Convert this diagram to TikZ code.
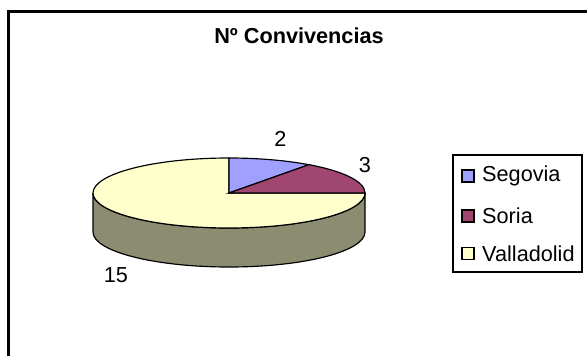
\documentclass[tikz,border=0pt]{standalone}
\usepackage{fontspec}
\setmainfont{Liberation Sans}
\usepackage{tikz}
\usetikzlibrary{arrows}

\definecolor{segcol}{RGB}{160,160,255}
\definecolor{soricol}{RGB}{160,70,112}
\definecolor{valcol}{RGB}{255,255,204}
\definecolor{sidecol}{RGB}{140,140,112}

\tikzset{
  pieline/.style={draw=black, line width=1pt},
  legsq/.style={draw=black, line width=1pt},
  lbl/.style={inner sep=0pt, font=\fontsize{18.5}{22}\selectfont},
}

\begin{document}
\begin{tikzpicture}[x=0.03cm, y=0.03cm]
\useasboundingbox (0,0) rectangle (587,356);
\fill[white] (0,0) rectangle (587,356);
\draw[black, line width=1.8pt] (8.5,0) -- (8.5,344.5) -- (587,344.5);

% titulo
\draw (299,320.5) node[lbl, font=\bfseries\fontsize{18.5}{22}\selectfont] (titulo) {Nº Convivencias};

% lateral del queso
\draw [pieline, fill=sidecol] (93,163) arc[start angle=180, end angle=360, x radius=136, y radius=35]
  -- (365,124) arc[start angle=0, end angle=-180, x radius=136, y radius=35] -- cycle;

% sectores
\draw [pieline, fill=valcol] (229,163) -- ++(0,35) arc[start angle=90, end angle=360, x radius=136, y radius=35] -- cycle;
\draw [pieline, fill=segcol] (229,163) -- ++(0,35) arc[start angle=90, end angle=54, x radius=136, y radius=35] -- cycle;
\draw [pieline, fill=soricol] (229,163) -- ++(136,0) arc[start angle=0, end angle=54, x radius=136, y radius=35] -- cycle;

% etiquetas
\draw (280.5,217) node[lbl] (etsegovia) {2};
\draw (365,191) node[lbl] (etsoria) {3};
\draw (116,81) node[lbl] (etvalladolid) {15};

% leyenda
\draw [black, line width=1.2pt] (453,84) rectangle (582,201);
\draw [legsq, fill=segcol] (462,174) rectangle (474,186);
\draw [legsq, fill=soricol] (462,134) rectangle (474,146);
\draw [legsq, fill=valcol] (462,96.5) rectangle (474,108.5);
\draw (482,180) node[lbl, anchor=west] (legsegovia) {Segovia};
\draw (482,140) node[lbl, anchor=west] (legsoria) {Soria};
\draw (482,102.5) node[lbl, anchor=west] (legvalladolid) {Valladolid};

\end{tikzpicture}
\end{document}
